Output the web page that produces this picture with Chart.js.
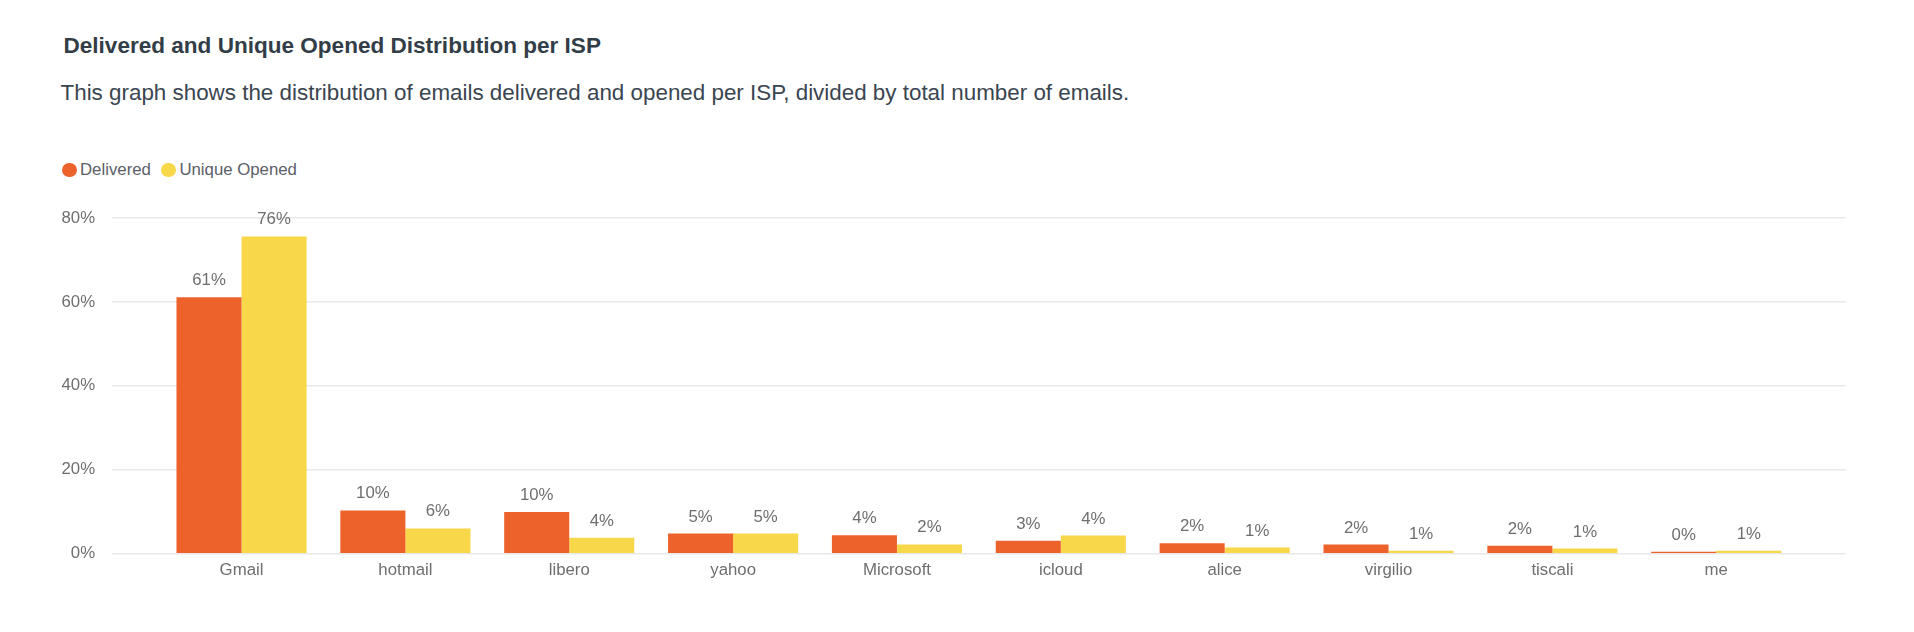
<!DOCTYPE html>
<html>
<head>
<meta charset="utf-8">
<script src="https://cdn.jsdelivr.net/npm/chart.js@4.4.1/dist/chart.umd.min.js"></script>
<style>
  html, body { margin: 0; padding: 0; background: #fff; }
  body { width: 1914px; height: 632px; position: relative; overflow: hidden; font-family: "Liberation Sans", Arial, sans-serif; }
  .title { position: absolute; left: 63.5px; top: 35.3px; font-size: 22.55px; line-height: 22.4px; font-weight: bold; color: #323d47; white-space: nowrap; }
  .subtitle { position: absolute; left: 60.5px; top: 82px; font-size: 22.4px; line-height: 22.4px; color: #3a4550; white-space: nowrap; }
  .legend { position: absolute; left: 61.5px; top: 161.8px; display: flex; align-items: center; font-size: 16.8px; line-height: 16.8px; color: #5b6068; }
  .legend .item { display: flex; align-items: center; margin-right: 10px; }
  .legend .dot { display: inline-block; width: 15px; height: 14.6px; border-radius: 50%; margin-right: 3.5px; }
  #chartWrap { position: absolute; left: 0; top: 180px; width: 1914px; height: 452px; }
</style>
</head>
<body>
<div class="title">Delivered and Unique Opened Distribution per ISP</div>
<div class="subtitle">This graph shows the distribution of emails delivered and opened per ISP, divided by total number of emails.</div>
<div class="legend" id="legend"></div>
<div id="chartWrap"><canvas id="ispChart"></canvas></div>
<script>
  "use strict";

  // data (percent of total emails)
  var categories = ["Gmail", "hotmail", "libero", "yahoo", "Microsoft", "icloud", "alice", "virgilio", "tiscali", "me"];
  var delivered = [61.1, 10.3, 9.9, 4.8, 4.4, 3.1, 2.45, 2.15, 1.9, 0.45];
  var uniqueOpened = [75.6, 6.0, 3.8, 4.8, 2.2, 4.3, 1.45, 0.7, 1.2, 0.7];
  var yTicks = [0, 20, 40, 60, 80];

  var seriesNames = ["Delivered", "Unique Opened"];
  var seriesColors = ["#ed622b", "#f8d748"];
  var textGrey = "#6e6e6e";
  var font = "'Liberation Sans', Arial, sans-serif";

  function toPoints(values) {
    return values.map(function (v, i) { return { x: i, y: v }; });
  }

  // html legend
  var legendEl = document.getElementById("legend");
  seriesNames.forEach(function (name, i) {
    var item = document.createElement("span");
    item.className = "item";
    item.innerHTML = '<span class="dot" style="background:' + seriesColors[i] + '"></span>' + name;
    legendEl.appendChild(item);
  });

  // value labels above bars
  var barLabels = {
    id: "barLabels",
    afterDatasetsDraw: function (chart) {
      var ctx = chart.ctx;
      ctx.save();
      ctx.font = "16.8px " + font;
      ctx.fillStyle = textGrey;
      ctx.textAlign = "center";
      ctx.textBaseline = "alphabetic";
      chart.data.datasets.forEach(function (ds, di) {
        var meta = chart.getDatasetMeta(di);
        meta.data.forEach(function (bar, i) {
          ctx.fillText(Math.round(ds.data[i].y) + "%", bar.x, bar.y - 12);
        });
      });
      ctx.restore();
    }
  };

  var chart = new Chart(document.getElementById("ispChart").getContext("2d"), {
    type: "bar",
    data: {
      datasets: [
        { label: seriesNames[0], data: toPoints(delivered), backgroundColor: seriesColors[0] },
        { label: seriesNames[1], data: toPoints(uniqueOpened), backgroundColor: seriesColors[1] }
      ]
    },
    options: {
      responsive: true,
      maintainAspectRatio: false,
      animation: false,
      categoryPercentage: 0.794,
      barPercentage: 1,
      layout: { padding: { left: 44.5, right: 68.3, top: 38, bottom: 44.2 } },
      plugins: {
        legend: { display: false },
        tooltip: { enabled: false }
      },
      scales: {
        x: {
          type: "linear",
          offset: false,
          min: -0.79,
          max: 9.79,
          grid: { display: false, offset: false, drawTicks: false },
          border: { display: false },
          ticks: {
            stepSize: 1,
            includeBounds: false,
            autoSkip: false,
            maxRotation: 0,
            padding: 7,
            color: textGrey,
            font: { family: font, size: 16.8 },
            callback: function (v) { return categories[v]; }
          }
        },
        y: {
          min: yTicks[0],
          max: yTicks[yTicks.length - 1],
          grid: { color: "#e8e8e8", lineWidth: 1.5, drawTicks: false },
          border: { display: false },
          afterBuildTicks: function (axis) {
            axis.ticks = yTicks.map(function (v) { return { value: v }; });
          },
          ticks: {
            padding: 17,
            color: textGrey,
            font: { family: font, size: 16.8 },
            callback: function (v) { return v + "%"; }
          }
        }
      }
    },
    plugins: [barLabels]
  });
</script>
</body>
</html>
